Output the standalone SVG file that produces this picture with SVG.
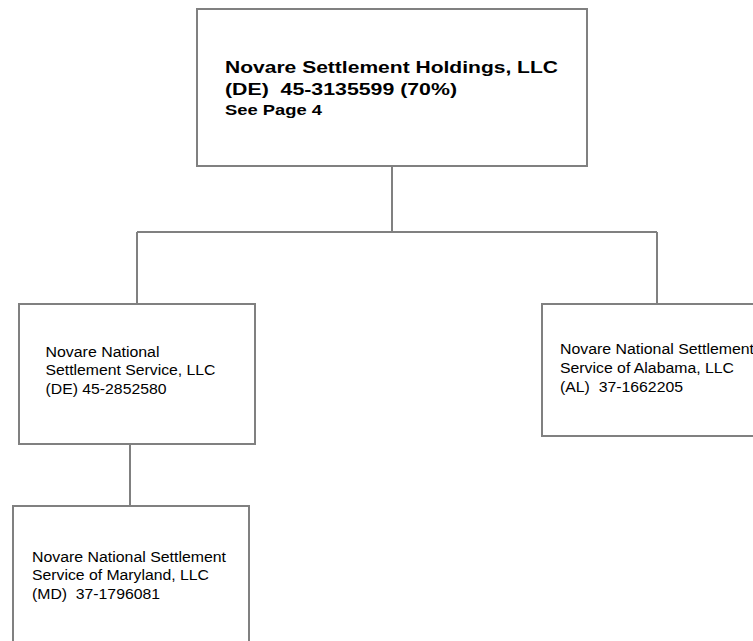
<svg xmlns="http://www.w3.org/2000/svg" width="753" height="641" viewBox="0 0 753 641">
<style>
.box{fill:#fff;stroke:#808080;stroke-width:2}
.ln{fill:none;stroke:#808080;stroke-width:2}
.t{font-family:"Liberation Sans",Arial,sans-serif;fill:#000;white-space:pre}
.b1{font-size:16.5px;font-weight:bold}
.b2{font-size:14px;font-weight:bold}
.n{font-size:14px}
</style>
<rect width="753" height="641" fill="#fff"/>
<g id="connectors">
<path class="ln" d="M392 166V232M137 232H657M137 232V304M657 232V304M130 444V506"/>
</g>
<g id="holdings">
<rect class="box" x="197" y="9" width="390" height="157"/>
<text class="t b1" x="225" y="73" textLength="333" lengthAdjust="spacingAndGlyphs">Novare Settlement Holdings, LLC</text>
<text class="t b1" x="225" y="95" textLength="232" lengthAdjust="spacingAndGlyphs" xml:space="preserve">(DE)  45-3135599 (70%)</text>
<text class="t b2" x="225" y="115" textLength="97" lengthAdjust="spacingAndGlyphs">See Page 4</text>
</g>
<g id="national">
<rect class="box" x="19" y="304" width="236" height="140"/>
<text class="t n" x="45.5" y="357" textLength="114" lengthAdjust="spacingAndGlyphs">Novare National</text>
<text class="t n" x="45.5" y="375" textLength="170" lengthAdjust="spacingAndGlyphs">Settlement Service, LLC</text>
<text class="t n" x="45.5" y="394" textLength="121" lengthAdjust="spacingAndGlyphs">(DE) 45-2852580</text>
</g>
<g id="alabama">
<rect class="box" x="542" y="304" width="240" height="132"/>
<text class="t n" x="560" y="354" textLength="194" lengthAdjust="spacingAndGlyphs">Novare National Settlement</text>
<text class="t n" x="560" y="373" textLength="174" lengthAdjust="spacingAndGlyphs">Service of Alabama, LLC</text>
<text class="t n" x="560" y="392" textLength="123" lengthAdjust="spacingAndGlyphs" xml:space="preserve">(AL)  37-1662205</text>
</g>
<g id="maryland">
<rect class="box" x="13" y="506" width="236" height="150"/>
<text class="t n" x="32" y="562" textLength="194" lengthAdjust="spacingAndGlyphs">Novare National Settlement</text>
<text class="t n" x="32" y="580" textLength="177" lengthAdjust="spacingAndGlyphs">Service of Maryland, LLC</text>
<text class="t n" x="32" y="599" textLength="128" lengthAdjust="spacingAndGlyphs" xml:space="preserve">(MD)  37-1796081</text>
</g>
</svg>
